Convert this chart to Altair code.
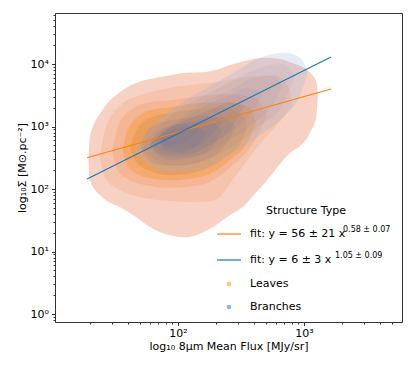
import altair as alt
import pandas as pd

# ---- KDE contour boundaries (log10 units) ----
# Leaves (orange), outer -> inner
LEAF_X = [
    [1.29, 1.30, 1.40, 1.54, 1.67, 1.78, 1.94, 2.06, 2.20, 2.29, 2.41, 2.53, 2.60, 2.69, 2.81, 2.89, 2.97, 3.05, 3.10, 3.11],
    [1.38, 1.42, 1.54, 1.70, 1.94, 2.17, 2.29, 2.45, 2.61, 2.77, 2.87, 2.91],
    [1.48, 1.52, 1.62, 1.78, 1.94, 2.17, 2.41, 2.61, 2.71],
    [1.56, 1.60, 1.70, 1.82, 1.94, 2.17, 2.41, 2.57, 2.62],
    [1.62, 1.67, 1.78, 1.94, 2.17, 2.37, 2.51, 2.55],
    [1.70, 1.75, 1.86, 2.02, 2.21, 2.37, 2.46],
    [1.78, 1.83, 1.94, 2.10, 2.25, 2.35],
    [1.86, 1.90, 2.02, 2.13, 2.23],
]
LEAF_LO = [
    [2.46, 2.14, 1.87, 1.71, 1.55, 1.39, 1.26, 1.23, 1.31, 1.41, 1.58, 1.74, 1.90, 2.10, 2.40, 2.58, 2.69, 2.91, 3.18, 3.50],
    [2.50, 2.18, 1.98, 1.87, 1.81, 1.79, 1.82, 2.19, 2.62, 2.99, 3.23, 3.34],
    [2.59, 2.30, 2.14, 2.05, 2.02, 2.06, 2.34, 2.78, 3.18],
    [2.62, 2.37, 2.22, 2.16, 2.14, 2.19, 2.46, 2.82, 3.07],
    [2.66, 2.43, 2.29, 2.22, 2.29, 2.50, 2.78, 3.02],
    [2.69, 2.50, 2.38, 2.37, 2.46, 2.69, 2.98],
    [2.72, 2.56, 2.46, 2.50, 2.62, 2.94],
    [2.75, 2.62, 2.59, 2.66, 2.90],
]
LEAF_HI = [
    [2.46, 2.82, 3.26, 3.55, 3.70, 3.76, 3.82, 3.86, 3.87, 3.90, 3.98, 4.05, 4.08, 4.10, 4.08, 4.03, 3.97, 3.86, 3.71, 3.50],
    [2.50, 2.94, 3.33, 3.50, 3.62, 3.68, 3.71, 3.76, 3.81, 3.82, 3.66, 3.34],
    [2.59, 2.98, 3.26, 3.39, 3.42, 3.49, 3.52, 3.46, 3.18],
    [2.62, 2.94, 3.18, 3.28, 3.31, 3.38, 3.39, 3.30, 3.07],
    [2.66, 2.94, 3.14, 3.22, 3.28, 3.30, 3.18, 3.02],
    [2.69, 2.91, 3.06, 3.12, 3.17, 3.14, 2.98],
    [2.72, 2.90, 3.01, 3.06, 3.07, 2.94],
    [2.75, 2.88, 2.96, 2.98, 2.90],
]
LEAF_COLORS = ["#f7d1c3", "#f6c3ad", "#f5b695", "#f5a96c", "#eb9f5c", "#dc955a", "#c98c5c", "#b48462"]

# Branches (blue), outer -> inner
BRANCH_X = [
    [1.66, 1.78, 1.94, 2.17, 2.41, 2.65, 2.85, 2.97, 3.03],
    [1.71, 1.82, 1.94, 2.17, 2.41, 2.65, 2.83, 2.93],
    [1.76, 1.86, 1.98, 2.17, 2.41, 2.61, 2.75, 2.83],
    [1.79, 1.90, 2.06, 2.21, 2.41, 2.57, 2.67],
    [1.78, 1.90, 2.06, 2.25, 2.41, 2.53],
    [1.82, 1.94, 2.10, 2.25, 2.37],
    [1.84, 1.94, 2.06, 2.17],
]
BRANCH_LO = [
    [2.62, 2.38, 2.27, 2.30, 2.54, 2.86, 3.18, 3.50, 3.87],
    [2.67, 2.46, 2.38, 2.43, 2.66, 3.01, 3.34, 3.82],
    [2.70, 2.54, 2.50, 2.54, 2.78, 3.07, 3.34, 3.66],
    [2.75, 2.59, 2.56, 2.66, 2.91, 3.18, 3.50],
    [2.70, 2.54, 2.54, 2.70, 2.94, 3.34],
    [2.78, 2.66, 2.67, 2.83, 3.14],
    [2.83, 2.70, 2.75, 2.98],
]
BRANCH_HI = [
    [2.62, 2.98, 3.26, 3.55, 3.82, 4.10, 4.18, 4.10, 3.87],
    [2.67, 2.94, 3.17, 3.46, 3.71, 3.94, 4.00, 3.82],
    [2.70, 2.91, 3.07, 3.36, 3.58, 3.78, 3.81, 3.66],
    [2.75, 2.94, 3.14, 3.33, 3.50, 3.62, 3.50],
    [2.70, 2.94, 3.10, 3.26, 3.39, 3.34],
    [2.78, 2.98, 3.07, 3.14, 3.14],
    [2.83, 2.94, 3.01, 2.98],
]
BRANCH_COLORS = ["#98aee0", "#6e6e96", "#6e6e96", "#6e6e96", "#6e6e96", "#6e6e96", "#6e6e96"]
BRANCH_OPAC = [0.25, 0.08, 0.08, 0.08, 0.14, 0.14, 0.16]

# ---- fit lines (end points) ----
FIT_X = [19, 1640]
FIT_LEAF_Y = [316, 3980]
FIT_BRANCH_Y = [145, 12900]

# ---- axes ----
X_DOMAIN = [10.57, 5998]
Y_DOMAIN = [0.745, 65460]
X_TICKS = [20, 30, 40, 50, 60, 70, 80, 90, 100, 200, 300, 400, 500, 600, 700, 800, 900,
           1000, 2000, 3000, 4000, 5000]
Y_TICKS = [0.8, 0.9, 1, 2, 3, 4, 5, 6, 7, 8, 9, 10, 20, 30, 40, 50, 60, 70, 80, 90,
           100, 200, 300, 400, 500, 600, 700, 800, 900, 1000, 2000, 3000, 4000, 5000,
           6000, 7000, 8000, 9000, 10000, 20000, 30000, 40000, 50000, 60000]

FONT = "DejaVu Sans"
xs = alt.Scale(type="log", domain=X_DOMAIN, nice=False)
ys = alt.Scale(type="log", domain=Y_DOMAIN, nice=False)

x_axis = alt.Axis(
    values=X_TICKS,
    labelExpr="datum.value == 100 ? '10²' : datum.value == 1000 ? '10³' : ''",
    tickSize={"condition": {"test": "indexof([100, 1000], datum.value) >= 0", "value": 3.5}, "value": 2},
    title="log₁₀ 8μm Mean Flux [MJy/sr]",
    titleX=173.5, titleY=24, titleBaseline="middle", titleAlign="center",
    labelPadding=2, grid=False, labelOverlap=False, labelFlush=False,
)
y_axis = alt.Axis(
    values=Y_TICKS,
    labelExpr="datum.value == 1 ? '10⁰' : datum.value == 10 ? '10¹' : datum.value == 100 ? '10²' : "
              "datum.value == 1000 ? '10³' : datum.value == 10000 ? '10⁴' : ''",
    tickSize={"condition": {"test": "indexof([1, 10, 100, 1000, 10000], datum.value) >= 0", "value": 3.5}, "value": 2},
    title="log₁₀Σ  [M⊙.pc⁻²]",
    titleX=-33, titleY=154.5, titleBaseline="middle", titleAlign="center", titleAngle=270,
    labelPadding=3, grid=False, labelOverlap=False, labelFlush=False,
)


def band(xl, lo, hi, color, opacity):
    df = pd.DataFrame({
        "flux": [10 ** v for v in xl],
        "lo": [10 ** v for v in lo],
        "hi": [10 ** v for v in hi],
    })
    return alt.Chart(df).mark_area(color=color, opacity=opacity, interpolate="monotone", clip=True).encode(
        x=alt.X("flux:Q", scale=xs, axis=x_axis),
        y=alt.Y("lo:Q", scale=ys, axis=y_axis),
        y2="hi:Q",
    )


layers = []
for i in range(len(LEAF_X)):
    layers.append(band(LEAF_X[i], LEAF_LO[i], LEAF_HI[i], LEAF_COLORS[i], 1.0))
for i in range(len(BRANCH_X)):
    layers.append(band(BRANCH_X[i], BRANCH_LO[i], BRANCH_HI[i], BRANCH_COLORS[i], BRANCH_OPAC[i]))


def fit_line(ys_vals, color):
    df = pd.DataFrame({"flux": FIT_X, "lo": ys_vals})
    return alt.Chart(df).mark_line(color=color, strokeWidth=1.2, clip=True).encode(
        x=alt.X("flux:Q", scale=xs, axis=x_axis),
        y=alt.Y("lo:Q", scale=ys, axis=y_axis),
    )


layers.append(fit_line(FIT_LEAF_Y, "#ff7f0e"))
layers.append(fit_line(FIT_BRANCH_Y, "#1f77b4"))

# ---- legend (drawn by hand inside the plot area) ----
one = pd.DataFrame({"k": [0]})


def txt(s, px, py, size=11, align="left"):
    return alt.Chart(one).mark_text(text=s, align=align, baseline="middle", font=FONT,
                                    fontSize=size, color="black").encode(
        x=alt.value(px), y=alt.value(py))


def seg(px1, px2, py, color):
    return alt.Chart(one).mark_rule(color=color, strokeWidth=1.2).encode(
        x=alt.value(px1), x2=alt.value(px2), y=alt.value(py))


def dot(px, py, color):
    return alt.Chart(one).mark_point(filled=True, size=22, color=color, opacity=1).encode(
        x=alt.value(px), y=alt.value(py))


layers += [
    txt("Structure Type", 251, 198, align="center"),
    seg(162, 186, 221, "#ff7f0e"),
    txt("fit: y = 56 ± 21 x", 195, 221),
    txt("0.58 ± 0.07", 288, 217, size=8),
    seg(162, 186, 247, "#1f77b4"),
    txt("fit: y = 6 ± 3 x", 195, 247),
    txt("1.05 ± 0.09", 280, 243, size=8),
    dot(174, 271, "#fcc872"),
    txt("Leaves", 195, 271),
    dot(174, 294, "#8db6e0"),
    txt("Branches", 195, 294),
]

chart = alt.layer(*layers).properties(
    width=347, height=309,
    autosize=alt.AutoSizeParams(type="none"),
    padding={"left": 47, "top": 5, "right": 5, "bottom": 40},
).configure_view(
    stroke="#333", strokeWidth=1
).configure_axis(
    domain=False, tickColor="#333", tickWidth=1,
    labelFont=FONT, titleFont=FONT, labelFontSize=11, titleFontSize=11,
    labelColor="black", titleColor="black", titleFontWeight="normal",
)

chart.save("out.html", embed_options={"renderer": "svg", "actions": False})
